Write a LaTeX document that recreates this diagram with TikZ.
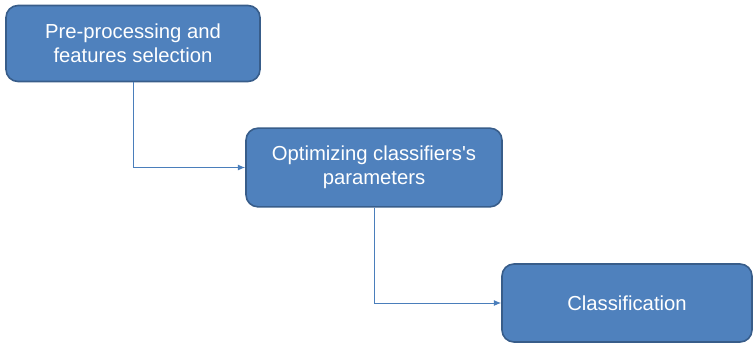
\documentclass[tikz,border=0pt]{standalone}
\usepackage{fontspec}
\setmainfont{Liberation Sans}
\usetikzlibrary{arrows.meta}
\definecolor{boxfill}{RGB}{79,129,189}
\definecolor{boxline}{RGB}{56,93,138}
\definecolor{linkcol}{RGB}{74,126,187}
\tikzset{every picture/.style={line width=0.75pt}}
\tikzset{
	stagebox/.style={draw=boxline, line width=1.2pt, fill=boxfill, rounded corners=9pt, text=white, align=center, inner sep=0pt, font=\fontsize{15.2}{18}\selectfont},
	link/.style={draw=linkcol, line width=0.75pt, -{Latex[length=5.5pt,width=4.5pt]}}
}

\begin{document}
\begin{tikzpicture}[x=0.75pt,y=0.75pt,yscale=-1,xscale=1]
		\useasboundingbox (0,0) rectangle (753,343);
		
		% Stage boxes
		\node [stagebox, minimum width=190.5pt, minimum height=57pt] (pre) at (133,43.5) {Pre-processing and\\features selection};
		\node [stagebox, minimum width=192pt, minimum height=59pt] (opt) at (374,167.5) {Optimizing classifiers\textquotesingle s\\parameters};
		\node [stagebox, minimum width=187.5pt, minimum height=58.5pt] (cls) at (627,303) {Classification};
		
		% Connectors
		\draw [link] (pre.south) |- (opt.west);
		\draw [link] (opt.south) |- (cls.west);
		
\end{tikzpicture}
\end{document}
